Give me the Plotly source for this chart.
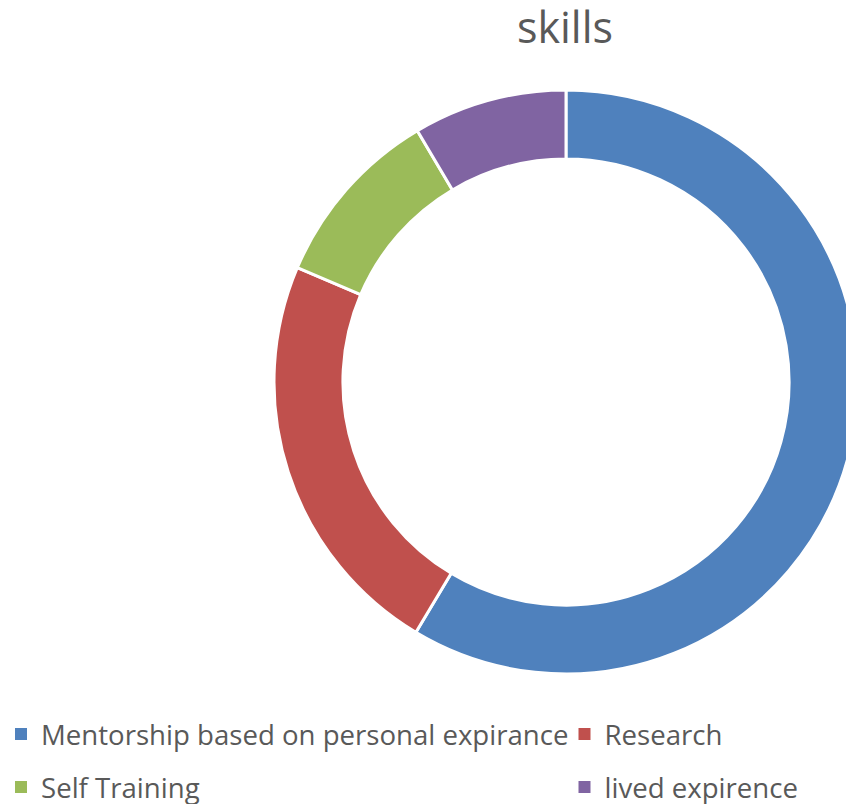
import plotly.graph_objects as go

labels = ["Mentorship based on personal expirance", "Research", "Self Training", "lived expirence"]
values = [58.6, 22.8, 10.1, 8.5]
colors = ["#4F81BD", "#C0504D", "#9BBB59", "#8064A2"]

W, H = 854, 804
OFF = 8  # page offset of the figure inside the browser window
cx, r = 566 - OFF, 292
cy = 382 - OFF

fig = go.Figure()
fig.add_trace(go.Pie(
    labels=labels, values=values, sort=False, direction="clockwise", rotation=0,
    hole=0.764, textinfo="none", hoverinfo="label+percent", showlegend=False,
    marker=dict(colors=colors, line=dict(color="white", width=3)),
    domain=dict(x=[(cx - r) / W, (cx + r) / W], y=[1 - (cy + r) / H, 1 - (cy - r) / H]),
))

# legend entries for the slices (2 x 2 grid like the reference)
legend_ids = ["legend", "legend2", "legend3", "legend4"]
leg_pos = [(-7, 726), (556.5, 726), (-7, 779), (556.5, 779)]
for lab, col, lid in zip(labels, colors, legend_ids):
    fig.add_trace(go.Scatter(
        x=[None], y=[None], mode="markers", name=lab, legend=lid,
        marker=dict(symbol="square", size=12, color=col), hoverinfo="skip",
    ))

leg_common = dict(font=dict(size=27.6, color="#595959", family="Open Sans"),
                  bgcolor="rgba(0,0,0,0)", xanchor="left", yanchor="middle",
                  itemwidth=30, orientation="h")
legs = {}
for lid, (lx, ly) in zip(legend_ids, leg_pos):
    legs[lid] = dict(x=lx / W, y=1 - ly / H, **leg_common)

fig.update_layout(
    width=W, height=H,
    margin=dict(l=0, r=0, t=0, b=0, autoexpand=False),
    paper_bgcolor="white", plot_bgcolor="white",
    font=dict(family="Open Sans", color="#595959"),
    title=dict(text="skills", x=(565 - OFF) / W, xanchor="center", y=1 - (28 - OFF) / H,
               yanchor="middle", font=dict(size=43, color="#595959")),
    showlegend=True,
    xaxis=dict(visible=False), yaxis=dict(visible=False),
    **legs,
)

fig.write_html("out.html")
